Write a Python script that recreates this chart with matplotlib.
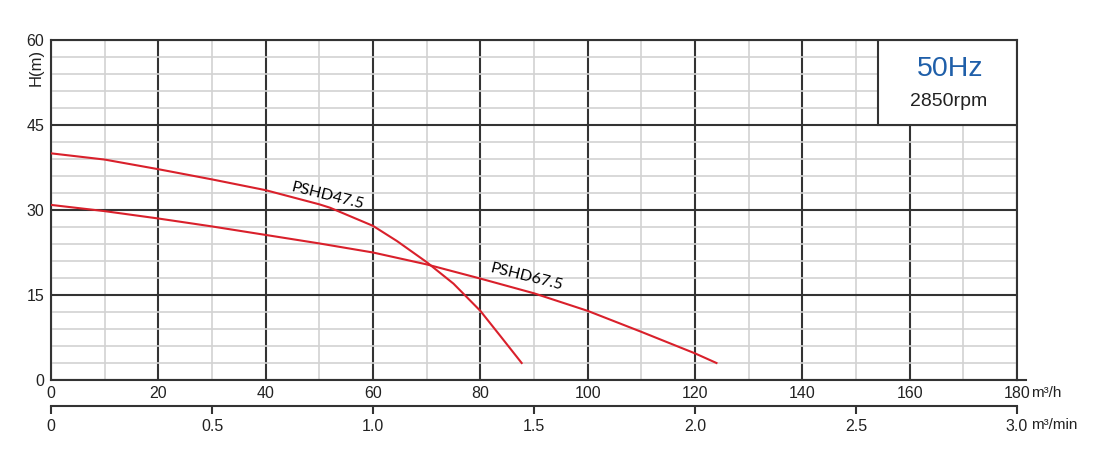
import numpy as np
import matplotlib
matplotlib.use("Agg")
import matplotlib.pyplot as plt
from matplotlib.patches import Rectangle

plt.rcParams['font.family'] = ['Liberation Sans', 'DejaVu Sans']

# curve readings (flow m3/h, head m)
q_475 = [0, 10, 20, 30, 40, 50, 52, 60, 64.5, 70, 75, 80, 83.7, 87.7]
h_475 = [40.0, 38.9, 37.2, 35.4, 33.5, 31.0, 30.4, 27.2, 24.5, 20.8, 17.0, 12.2, 7.8, 3.0]

q_675 = [0, 10, 20, 30, 40, 50, 60, 70, 80, 90, 100, 110, 120, 124]
h_675 = [30.9, 29.8, 28.5, 27.1, 25.6, 24.1, 22.5, 20.4, 17.9, 15.3, 12.2, 8.5, 4.7, 3.0]

x_ticks = list(range(0, 181, 20))
y_ticks = list(range(0, 61, 15))
min_ticks = [0, 0.5, 1.0, 1.5, 2.0, 2.5, 3.0]
min_labels = ['0', '0.5', '1.0', '1.5', '2.0', '2.5', '3.0']

W, H = 1100, 465
dark = '#333333'
red = '#d9202b'

fig = plt.figure(figsize=(W / 100, H / 100), dpi=100)
ax = fig.add_axes([51 / W, 1 - 380 / H, 966 / W, 340 / H])
ax.set_xlim(0, 180)
ax.set_ylim(0, 60)

ax.set_xticks(x_ticks)
ax.set_yticks(y_ticks)
ax.set_xticks(range(0, 181, 10), minor=True)
ax.set_yticks(range(0, 61, 3), minor=True)
ax.grid(which='minor', color='#d2d2d2', lw=1.2)
ax.grid(which='major', color=dark, lw=1.5)
ax.set_axisbelow(True)
ax.tick_params(which='both', length=0, labelsize=11.5, colors='#222222')
ax.tick_params(axis='x', pad=4)
ax.tick_params(axis='y', pad=5)
for s in ax.spines.values():
    s.set_color(dark)
    s.set_linewidth(1.5)

# bottom spine sticks out a bit past 180
ax.plot([180, 181.7], [0, 0], color=dark, lw=1.5, clip_on=False)

# second flow scale in m3/min
sec = ax.secondary_xaxis(-26 / 340, functions=(lambda q: q / 60, lambda m: m * 60))
sec.set_xticks(min_ticks)
sec.set_xticklabels(min_labels)
sec.tick_params(direction='out', length=6, width=1.5, color=dark, labelsize=11.5,
                labelcolor='#222222', pad=3)
sec.spines['bottom'].set_color(dark)
sec.spines['bottom'].set_linewidth(1.5)

ax.plot(q_475, h_475, color=red, lw=1.5, zorder=3)
ax.plot(q_675, h_675, color=red, lw=1.5, zorder=3)

ax.text(51.5, 32.4, 'PSHD47.5', family=['Lato', 'DejaVu Sans'], fontsize=11.5,
        rotation=-14, ha='center', va='center', zorder=4)
ax.text(88.6, 18.2, 'PSHD67.5', family=['Lato', 'DejaVu Sans'], fontsize=11.5,
        rotation=-14, ha='center', va='center', zorder=4)

# speed box in the corner
ax.add_patch(Rectangle((154.1, 45), 25.9, 15, facecolor='white', edgecolor=dark,
                       lw=1.5, zorder=2))
ax.text(167.5, 53.7, '50Hz', color='#1f5fa9', fontsize=20.5, ha='center', va='baseline', zorder=4)
ax.text(167.2, 48.35, '2850rpm', color='#222222', fontsize=14, ha='center', va='baseline', zorder=4)

ax.text(-0.0155, 0.919, 'H(m)', transform=ax.transAxes, rotation=90, fontsize=12,
        ha='center', va='center', color='#222222')
fig.text(1031 / W, 1 - 397 / H, 'm³/h', fontsize=11, va='baseline', color='#222222')
fig.text(1031 / W, 1 - 429 / H, 'm³/min', fontsize=11, va='baseline', color='#222222')

fig.savefig('out.png', dpi=100)
